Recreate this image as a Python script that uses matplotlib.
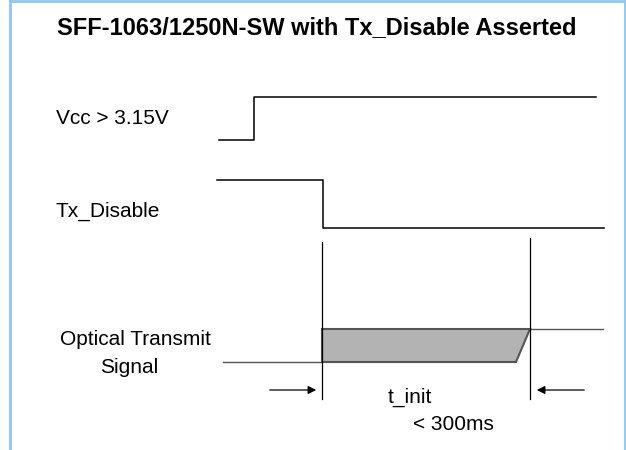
#!/usr/bin/env python
"""
Timing diagram: SFF-1063/1250N-SW with Tx_Disable Asserted
"""
import matplotlib
matplotlib.use("Agg")
import matplotlib.pyplot as plt
from matplotlib.patches import Polygon

plt.rcParams['font.family'] = ['Liberation Sans', 'DejaVu Sans']

# ---------- data (diagram units, x = time, y = level) ----------
title = "SFF-1063/1250N-SW with Tx_Disable Asserted"

# Vcc waveform
vcc_x = [219, 254, 254, 596]
vcc_y = [140, 140, 97, 97]

# Tx_Disable waveform
txd_x = [217, 323, 323, 604]
txd_y = [180, 180, 228, 228]

# optical transmit signal
opt_low_x = [223, 322]
opt_low_y = [362, 362]
opt_high_x = [530, 603]
opt_high_y = [329, 329]
# transition block (left, slant start, right), (top, bottom)
blk_x = [322, 516, 530]
blk_y = [329, 362]

# t_init markers
mark_x = [322, 530]
mark_top = [242, 238]
mark_bot = 399
arrow_y = 390
arrow_left = [267, 319]
arrow_right = [587, 534]

signal_labels = ["Vcc > 3.15V", "Tx_Disable"]
signal_label_y = [119, 211]

fig = plt.figure(figsize=(6.26, 4.5), dpi=100)
ax = fig.add_axes([0, 0, 1, 1])
ax.set_xlim(0, 626)
ax.set_ylim(450, 0)
ax.axis("off")

# frame
blue = "#8cc8f2"
ax.plot([10, 10], [0, 450], color=blue, lw=2)
ax.plot([10, 625], [1, 1], color=blue, lw=2)
ax.plot([625, 625], [0, 450], color=blue, lw=2)

ax.text(317, 28, title, ha="center", va="center", fontsize=17, fontweight="bold")

# waveforms
ax.plot(vcc_x, vcc_y, color="black", lw=1.1)
ax.plot(txd_x, txd_y, color="black", lw=1.1)
ax.plot(opt_low_x, opt_low_y, color="#555555", lw=1)
ax.plot(opt_high_x, opt_high_y, color="#555555", lw=1)

poly = Polygon([(blk_x[0], blk_y[0]), (blk_x[2], blk_y[0]),
                (blk_x[1], blk_y[1]), (blk_x[0], blk_y[1])],
               closed=True, facecolor="#b3b3b3", edgecolor="#555555", lw=1.5)
ax.add_patch(poly)

for mx, mt in zip(mark_x, mark_top):
    ax.plot([mx, mx], [mt, mark_bot], color="black", lw=0.9)

ax.annotate("", xy=(arrow_left[1], arrow_y), xytext=(arrow_left[0], arrow_y),
            arrowprops=dict(arrowstyle="-|>", color="black", lw=0.9,
                            mutation_scale=12))
ax.annotate("", xy=(arrow_right[1], arrow_y), xytext=(arrow_right[0], arrow_y),
            arrowprops=dict(arrowstyle="-|>", color="black", lw=0.9,
                            mutation_scale=12))

# labels
for lbl, ly in zip(signal_labels, signal_label_y):
    ax.text(56, ly, lbl, ha="left", va="center", fontsize=15)
ax.text(135, 345, "Optical Transmit", ha="center", va="baseline", fontsize=15)
ax.text(129, 373, "Signal", ha="center", va="baseline", fontsize=15)
ax.text(410, 397, "t_init", ha="center", va="center", fontsize=15)
ax.text(453, 425, "< 300ms", ha="center", va="center", fontsize=15)

fig.savefig("out.png", dpi=100)
